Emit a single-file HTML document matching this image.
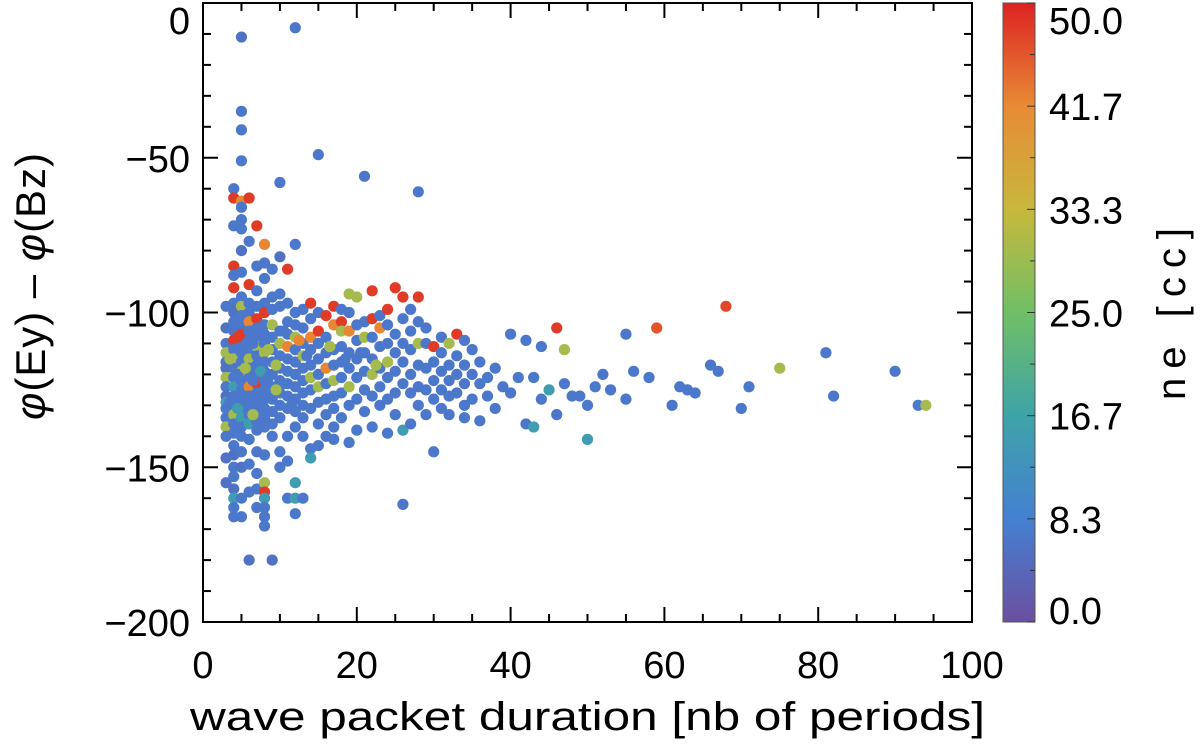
<!DOCTYPE html>
<html><head><meta charset="utf-8"><style>
body{margin:0;background:#fff;}
svg text{font-family:"Liberation Sans",sans-serif;fill:#000;}
</style></head><body>
<svg id="chart" width="1200" height="750" xmlns="http://www.w3.org/2000/svg">
<defs>
<linearGradient id="cmap" x1="0" y1="1" x2="0" y2="0">
<stop offset="0" stop-color="#6b4fa0"/><stop offset="0.166" stop-color="#4580d2"/><stop offset="0.333" stop-color="#3ea3a8"/><stop offset="0.5" stop-color="#70bf66"/><stop offset="0.666" stop-color="#c8b83c"/><stop offset="0.834" stop-color="#e88a35"/><stop offset="1" stop-color="#dd2222"/>
</linearGradient>
</defs>
<g id="points"></g>
<g id="axes"></g>
<rect x="1003" y="3" width="32" height="619" fill="url(#cmap)" stroke="#555" stroke-width="1"/>
<g id="cbar"></g>
<text x="190" y="730" font-size="40" textLength="795" lengthAdjust="spacingAndGlyphs">wave packet duration [nb of periods]</text>
<text transform="translate(45,420) rotate(-90)" font-size="42" textLength="267" lengthAdjust="spacing" xml:space="preserve"><tspan font-style="italic">φ</tspan>(Ey) – <tspan font-style="italic">φ</tspan>(Bz)</text>
<text transform="translate(1185,400) rotate(-90)" font-size="40" textLength="172" lengthAdjust="spacing" xml:space="preserve">ne [cc]</text>
</svg>
<script>
const durations=[3,3,3,3,3,3,3,3,3,3,3,3,3,3,3,3,
4,4,4,4,4,4,4,4,4,4,4,4,4,4,4,4,4,4,4,4,4,4,4,4,4,4,4,4,4,
5,5,5,5,5,5,5,5,5,5,5,5,5,5,5,5,5,5,5,5,5,5,5,5,5,5,5,5,5,5,
6,6,6,6,6,6,6,6,6,6,6,6,6,6,6,6,6,6,6,6,6,
7,7,7,7,7,7,7,7,7,7,7,7,7,7,7,7,7,7,7,7,7,
8,8,8,8,8,8,8,8,8,8,8,8,8,8,8,8,8,8,8,8,8,8,8,8,
9,9,9,9,9,9,9,9,9,9,9,9,9,9,
10,10,10,10,10,10,10,10,10,10,10,10,10,10,
11,11,11,11,11,11,11,11,11,11,11,11,11,
12,12,12,12,12,12,12,12,12,12,12,12,12,12,12,
13,13,13,13,13,13,13,13,13,13,13,
14,14,14,14,14,14,14,14,14,14,
15,15,15,15,15,15,15,15,15,15,
16,16,16,16,16,16,16,16,
17,17,17,17,17,17,17,17,17,
18,18,18,18,18,18,18,18,
19,19,19,19,19,19,19,19,
20,20,20,20,20,20,20,
21,21,21,21,21,21,21,
22,22,22,22,22,22,22,
23,23,23,23,23,23,
24,24,24,24,24,24,24,
25,25,25,25,25,25,
26,26,26,26,26,26,26,
27,27,27,27,27,27,
28,28,28,28,28,28,28,
29,29,29,29,29,
30,30,30,30,30,
31,31,31,31,31,
32,32,32,32,32,
33,33,33,33,
34,34,34,34,34,
35,35,35,36,36,36,37,37,38,38,
39,40,40,41,42,42,43,43,44,44,45,46,46,47,47,48,49,50,50,51,52,53,55,55,56,58,59,61,62,63,64,66,67,68,70,71,75,81,82,90,93,94,
3.5,4.5,5.5,6.5,7.5,8.5,9.5,10.5,3.5,4.5,5.5,6.5,7.5,8.5,9.5,11.5,4.5,6.5,8.5,10.5,12.5,13.5,16.5,18.5,20.5,22.5];
const phases=[-98,-105,-110,-113,-116,-118,-121,-124,-127,-129,-131,-134,-137,-140,-147,-155,
-60,-63,-72,-85,-88,-92,-97,-100,-103,-106,-109,-112,-115,-118,-121,-124,-127,-130,-133,-136,-139,-143,-146,-150,-153,-157,-160,-163,-166,
-11,-35,-41,-51,-64,-66,-70,-73,-80,-87,-95,-98,-101,-104,-107,-110,-113,-116,-119,-122,-125,-128,-131,-134,-137,-140,-145,-150,-160,-166,
-63,-77,-91,-97,-100,-103,-106,-109,-112,-115,-118,-121,-124,-127,-130,-133,-136,-141,-149,-158,-180,
-72,-85,-93,-98,-102,-105,-108,-111,-114,-117,-120,-123,-126,-129,-132,-135,-138,-145,-152,-157,-163,
-78,-84,-89,-97,-100,-104,-107,-110,-113,-116,-119,-122,-125,-128,-131,-134,-137,-146,-155,-158,-160,-163,-166,-169,
-86,-95,-99,-104,-108,-112,-116,-120,-124,-128,-132,-136,-140,-180,
-58,-82,-94,-98,-106,-110,-114,-118,-122,-126,-130,-134,-145,-150,
-86,-97,-103,-107,-111,-115,-119,-123,-127,-131,-140,-148,-160,
-8,-78,-100,-104,-108,-112,-116,-120,-124,-128,-132,-137,-155,-160,-165,
-99,-105,-110,-114,-118,-122,-126,-130,-134,-140,-160,
-97,-102,-108,-112,-117,-121,-125,-131,-144,-147,
-49,-100,-106,-110,-115,-120,-124,-129,-136,-143,
-101,-108,-113,-118,-123,-128,-133,-140,
-98,-104,-112,-117,-122,-127,-131,-137,-141,
-99,-103,-106,-111,-116,-121,-126,-134,
-94,-100,-106,-113,-118,-124,-130,-142,
-95,-104,-109,-115,-121,-128,-138,
-56,-103,-108,-113,-119,-125,-132,
-93,-102,-108,-115,-120,-127,-137,
-101,-105,-111,-118,-124,-130,
-99,-104,-110,-116,-121,-128,-139,
-92,-107,-113,-119,-126,-133,
-95,-102,-110,-116,-123,-138,-162,
-99,-106,-112,-120,-126,-136,
-61,-95,-103,-110,-117,-124,-130,
-105,-110,-118,-125,-133,
-111,-116,-122,-128,-145,
-108,-113,-119,-125,-131,
-110,-117,-122,-127,-133,
-107,-114,-120,-126,
-109,-117,-123,-130,-134,
-112,-120,-128,-116,-123,-135,-121,-127,-118,-131,
-124,-107,-126,-121,-109,-136,-121,-137,-111,-128,-125,-105,-133,-112,-123,-127,-127,-130,-141,-124,-120,-125,-107,-128,-119,-121,-105,-130,-124,-125,-126,-117,-119,-98,-131,-124,-118,-113,-127,-119,-130,-130,
-115,-120,-118,-122,-119,-121,-117,-123,-129,-131,-127,-133,-128,-126,-125,-130,-108,-110,-112,-106,-109,-114,-111,-115,-113,-117];
const densities=[7,6,7,30,7,6,30,7,6,15,7,7,30,7,6,6,
7,48,7,48,7,48,7,6,7,7,48,7,30,7,7,15,7,7,30,7,7,7,6,7,7,6,15,7,7,
6,7,7,7,42,7,7,7,6,7,7,30,7,7,48,7,7,7,30,7,7,7,7,15,7,7,7,6,7,7,
48,7,48,7,7,42,7,7,7,30,7,7,42,7,7,7,15,7,7,7,6,
48,7,7,7,48,7,7,30,7,7,7,48,7,7,7,7,7,7,7,7,7,
42,7,7,7,48,7,7,7,30,7,7,7,7,7,7,7,7,7,30,48,15,7,7,7,
7,7,7,30,7,7,7,7,7,7,7,7,7,6,
7,6,7,7,7,30,7,7,7,7,7,7,7,7,
48,7,7,7,42,7,7,7,7,7,7,7,7,
7,7,7,7,30,7,7,7,7,7,7,7,15,15,7,
7,7,7,30,7,7,7,7,7,7,7,
48,7,42,7,7,30,7,7,7,15,
7,7,48,7,7,7,30,7,7,7,
48,7,7,42,7,7,7,7,
48,42,7,7,30,7,7,7,7,
7,48,30,7,7,7,7,7,
30,7,42,7,7,30,7,7,
30,7,7,7,7,7,7,
7,7,30,7,7,7,7,
48,48,7,7,30,7,7,
7,42,7,7,7,7,
48,7,7,30,7,7,7,
48,7,7,7,7,7,
48,7,7,7,7,15,7,
7,7,7,7,7,7,
7,48,7,30,7,7,7,
7,7,7,7,7,
48,7,7,7,7,
7,7,7,7,7,
30,7,7,7,7,
48,7,7,7,
7,7,7,7,7,
7,7,7,7,7,7,7,7,7,7,
7,7,7,7,7,7,7,15,7,7,15,48,7,30,7,7,7,7,15,7,7,7,7,7,7,7,46,7,7,7,7,7,7,47,7,7,30,7,7,7,7,30,
30,7,30,7,15,7,30,7,7,15,7,30,7,7,30,7,48,7,30,7,42,7,30,7,7,30];
const xTickLabels=["0","20","40","60","80","100"];
const yTickLabels=["0","−50","−100","−150","−200"];
const cbarTickLabels=["0.0","8.3","16.7","25.0","33.3","41.7","50.0"];

const NS="http://www.w3.org/2000/svg";
const X0=203,X1=972,Y0=3,Y1=622;
function xs(v){return X0+(v/100)*(X1-X0);}
function ys(v){return Y0+(-v/200)*(Y1-Y0);}
function cy(v){return Y1-(v/50)*(Y1-Y0);}
const stops=[[0,[107,79,160]],[8.3,[69,128,210]],[16.7,[62,163,168]],[25,[112,191,102]],[33.3,[200,184,60]],[41.7,[232,138,53]],[50,[221,34,34]]];
function cmap(v){
  for(let i=0;i<stops.length-1;i++){const a=stops[i],b=stops[i+1];
    if(v<=b[0]){const t=Math.max(0,(v-a[0])/(b[0]-a[0]));return "rgb("+a[1].map((c,k)=>Math.round(c+(b[1][k]-c)*t)).join(",")+")";}}
  return "rgb(221,34,34)";}
function mk(tag,attrs,parent){const e=document.createElementNS(NS,tag);for(const k in attrs)e.setAttribute(k,attrs[k]);parent.appendChild(e);return e;}
const pg=document.getElementById('points');
for(let i=0;i<durations.length;i++){
  const c=mk('circle',{cx:xs(durations[i]),cy:ys(phases[i]),r:5.6,fill:cmap(densities[i])},pg);
  
  
}
const ax=document.getElementById('axes');
const fr=mk('rect',{x:X0,y:Y0,width:X1-X0,height:Y1-Y0,fill:'none',stroke:'#000','stroke-width':2},ax);


for(let v=0;v<=100;v+=5){const L=v%20===0?15:8;
  mk('line',{x1:xs(v),x2:xs(v),y1:Y1,y2:Y1-L,stroke:'#000','stroke-width':2},ax);
  mk('line',{x1:xs(v),x2:xs(v),y1:Y0,y2:Y0+L,stroke:'#000','stroke-width':2},ax);}
for(let v=0;v>=-200;v-=10){const L=v%50===0?15:8;
  mk('line',{x1:X0,x2:X0+L,y1:ys(v),y2:ys(v),stroke:'#000','stroke-width':2},ax);
  mk('line',{x1:X1,x2:X1-L,y1:ys(v),y2:ys(v),stroke:'#000','stroke-width':2},ax);}
xTickLabels.forEach((s,i)=>{const t=mk('text',{x:xs(i*20),y:678,'font-size':38,'text-anchor':'middle'},ax);t.textContent=s;
  
  });
yTickLabels.forEach((s,i)=>{const yy=Math.max(ys(-i*50),20);const t=mk('text',{x:190,y:yy+14,'font-size':38,'text-anchor':'end'},ax);t.textContent=s;
  
  });
const cb=document.getElementById('cbar');
for(let k=0;k<=12;k++){const v=k*50/12;const L=k%2===0?8:5;
  mk('line',{x1:1035,x2:1035-L,y1:cy(v),y2:cy(v),stroke:'#333','stroke-width':1},cb);}
cbarTickLabels.forEach((s,i)=>{const yy=Math.min(Math.max(cy(i*50/6),20),610);const t=mk('text',{x:1049,y:yy+14,'font-size':38},cb);t.textContent=s;
  
  });
</script>
</body></html>
